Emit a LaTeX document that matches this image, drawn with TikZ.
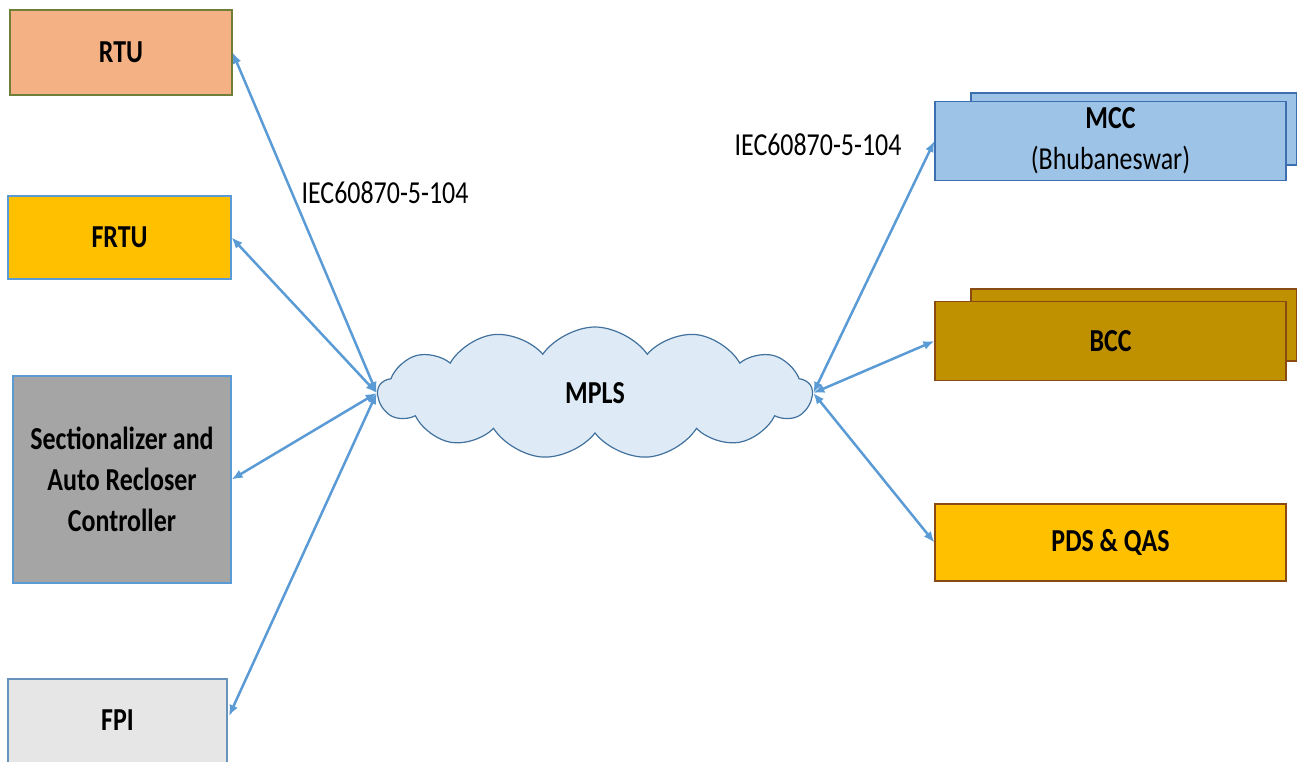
\documentclass[tikz,border=0pt]{standalone}
\usepackage{fontspec}
\setmainfont{Carlito}[FakeStretch=0.81]
\usetikzlibrary{arrows,arrows.meta,positioning,shapes,shapes.symbols}
\definecolor{linkblue}{HTML}{5B9BD5}
\definecolor{rtufill}{HTML}{F4B183}
\definecolor{rtuedge}{HTML}{6F7F3A}
\definecolor{gold}{HTML}{FFC000}
\definecolor{greyfill}{HTML}{A5A5A5}
\definecolor{lightfill}{HTML}{E7E6E6}
\definecolor{mccfill}{HTML}{9DC3E6}
\definecolor{mccedge}{HTML}{3D6FB0}
\definecolor{bccfill}{HTML}{BF9000}
\definecolor{bccedge}{HTML}{8A4A14}
\definecolor{cloudfill}{HTML}{DEEBF7}
\definecolor{cloudedge}{HTML}{41719C}

\begin{document}
\begin{tikzpicture}[x=1pt,y=-1pt,
    box/.style={draw,line width=1.2pt,inner sep=0pt,align=center,
      font=\fontsize{32}{41}\selectfont\bfseries},
    link/.style={<->,>={Latex[length=11pt,width=9pt]},draw=linkblue,line width=2.5pt}]
    \useasboundingbox (0,0) rectangle (1297,762);

    % field devices
    \node[box,fill=rtufill,draw=rtuedge,minimum width=222pt,minimum height=85pt] (rtu) at (121,52.5) {RTU};
    \node[box,fill=gold,draw=linkblue,minimum width=223pt,minimum height=83pt] (frtu) at (119.5,237.5) {FRTU};
    \node[box,fill=greyfill,draw=linkblue,minimum width=218pt,minimum height=207pt] (sect) at (122,479.5)
      {Sectionalizer and\\Auto Recloser\\Controller};
    \node[box,fill=lightfill,draw=linkblue!70!gray,minimum width=219pt,minimum height=121pt] (fpi) at (117.5,739.5) {};
    \node[font=\fontsize{32}{41}\selectfont\bfseries] (fpilabel) at (117.5,720) {FPI};
    \coordinate (fpiin) at (229,716);

    % network
    \node[cloud,cloud puffs=13,cloud puff arc=110,aspect=3,draw=cloudedge,fill=cloudfill,line width=1.2pt,
      minimum width=434pt,minimum height=132pt,font=\fontsize{32}{41}\selectfont\bfseries] (mpls) at (595,393) {MPLS};

    % control centres
    \node[box,fill=mccfill,draw=mccedge,minimum width=326pt,minimum height=72pt] (mccback) at (1134,129) {};
    \node[box,fill=mccfill,draw=mccedge,minimum width=351pt,minimum height=79pt] (mcc) at (1110.5,141)
      {MCC\\{\mdseries(Bhubaneswar)}};
    \node[box,fill=bccfill,draw=bccedge,minimum width=326pt,minimum height=72pt] (bccback) at (1134,325) {};
    \node[box,fill=bccfill,draw=bccedge,minimum width=351pt,minimum height=79pt] (bcc) at (1110.5,341) {BCC};
    \node[box,fill=gold,draw=bccedge,minimum width=351pt,minimum height=77pt] (pds) at (1110.5,542.5) {PDS \& QAS};

    \foreach \to in {rtu,frtu,sect}
    \draw[link] (mpls.west) -- (\to.east);
    \draw[link] (mpls.west) -- (fpiin);
    \foreach \to in {mcc,bcc,pds}
    \draw[link] (mpls.east) -- (\to.west);

    \node[font=\fontsize{32}{41}\selectfont] (leftproto) at (385,193) {IEC60870-5-104};
    \node[font=\fontsize{32}{41}\selectfont] (rightproto) at (818,145) {IEC60870-5-104};
\end{tikzpicture}
\end{document}
